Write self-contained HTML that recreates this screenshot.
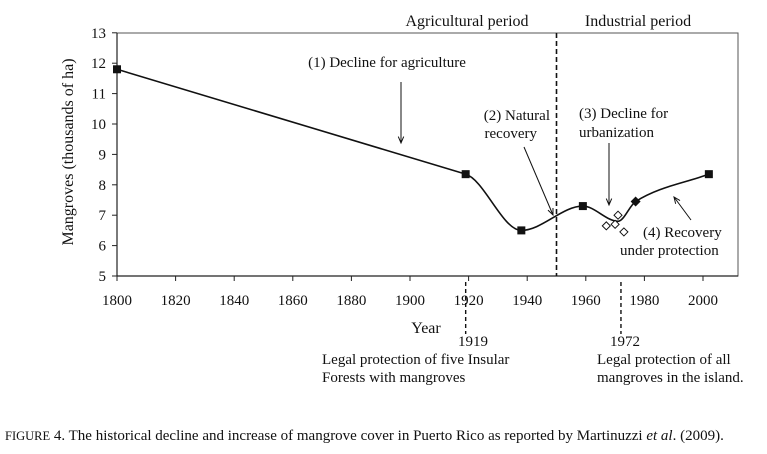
<!DOCTYPE html>
<html><head><meta charset="utf-8"><style>
body{margin:0;background:#fff}
svg text{font-family:"Liberation Serif",serif;fill:#111}
</style></head><body>
<svg width="767" height="449" xmlns="http://www.w3.org/2000/svg">
<g id="plot"></g>
</svg>
<script>
const years=[1800,1919,1938,1959,1977,2002];
const cover=[11.8,8.35,6.5,7.3,7.45,8.35];
const curveYears=[1800,1919,1938,1959,1971,1977,2002];
const curveVals=[11.8,8.35,6.5,7.3,6.8,7.45,8.35];
const openYears=[1967,1970,1971,1973];
const openVals=[6.65,6.7,7.0,6.45];
const filledDiamondIdx=4;
const xTicks=[1800,1820,1840,1860,1880,1900,1920,1940,1960,1980,2000];
const yTicks=[5,6,7,8,9,10,11,12,13];
const NS="http://www.w3.org/2000/svg";
const g=document.getElementById('plot');
const X=v=>117+(v-1800)*2.93;
const Y=v=>276-(v-5)*30.4;
function mk(t,a,p){const e=document.createElementNS(NS,t);for(const k in a)e.setAttribute(k,a[k]);(p||g).appendChild(e);return e;}
function tx(s,x,y,anc,size,name){const e=mk('text',{x:x,y:y,'text-anchor':anc||'start','font-size':size||15});e.textContent=s;return e;}
let a=mk('rect',{x:117,y:33,width:621,height:243,fill:'none',stroke:'#555','stroke-width':1});

a=mk('line',{x1:117,y1:33,x2:117,y2:276,stroke:'#222','stroke-width':1.2});

a=mk('line',{x1:117,y1:276,x2:738,y2:276,stroke:'#222','stroke-width':1.2});

yTicks.forEach(v=>{let l=mk('line',{x1:112,y1:Y(v),x2:117,y2:Y(v),stroke:'#222'});tx(String(v),106,Y(v)+5,'end',15,'y-tick-label');});
xTicks.forEach(v=>{let l=mk('line',{x1:X(v),y1:276,x2:X(v),y2:281,stroke:'#222'});tx(String(v),X(v),305,'middle',15,'x-tick-label');});
a=mk('line',{x1:X(1950),y1:33,x2:X(1950),y2:276,stroke:'#111','stroke-width':1.6,'stroke-dasharray':'5,3'});

[1919,1972].forEach(v=>{let l=mk('line',{x1:X(v),y1:282,x2:X(v),y2:334,stroke:'#111','stroke-width':1.4,'stroke-dasharray':'4,3'});});
const n=curveYears.length, xs=curveYears.map(X), ys=curveVals.map(Y);
const dl=[],m=[];
for(let i=0;i<n-1;i++)dl.push((ys[i+1]-ys[i])/(xs[i+1]-xs[i]));
m[0]=dl[0];m[n-1]=dl[n-2];
for(let i=1;i<n-1;i++){ if(dl[i-1]*dl[i]<=0)m[i]=0; else { const w1=2*(xs[i+1]-xs[i])+(xs[i]-xs[i-1]),w2=(xs[i+1]-xs[i])+2*(xs[i]-xs[i-1]); m[i]=(w1+w2)/(w1/dl[i-1]+w2/dl[i]); } }
m[1]=dl[0];
let d='M'+xs[0]+','+ys[0]+' L'+xs[1]+','+ys[1];
for(let i=1;i<n-1;i++){const h=(xs[i+1]-xs[i])/3;d+=` C${xs[i]+h},${ys[i]+m[i]*h} ${xs[i+1]-h},${ys[i+1]-m[i+1]*h} ${xs[i+1]},${ys[i+1]}`;}
a=mk('path',{d:d,fill:'none',stroke:'#111','stroke-width':1.6});

years.forEach((y,i)=>{const cx=X(y),cy=Y(cover[i]);let e;
if(i===filledDiamondIdx){e=mk('polygon',{points:`${cx},${cy-5} ${cx+5},${cy} ${cx},${cy+5} ${cx-5},${cy}`,fill:'#111'});}
else e=mk('rect',{x:cx-4,y:cy-4,width:8,height:8,fill:'#111'});
});
openYears.forEach((y,i)=>{const cx=X(y),cy=Y(openVals[i]);const e=mk('polygon',{points:`${cx},${cy-4} ${cx+4},${cy} ${cx},${cy+4} ${cx-4},${cy}`,fill:'#fff',stroke:'#111','stroke-width':1});
});
function arrow(x1,y1,x2,y2,name){const l=mk('line',{x1:x1,y1:y1,x2:x2,y2:y2,stroke:'#111','stroke-width':1});
const ang=Math.atan2(y2-y1,x2-x1),s=7;const h=mk('polyline',{points:`${x2-s*Math.cos(ang-0.4)},${y2-s*Math.sin(ang-0.4)} ${x2},${y2} ${x2-s*Math.cos(ang+0.4)},${y2-s*Math.sin(ang+0.4)}`,fill:'none',stroke:'#111','stroke-width':1});}
arrow(401,82,401,143,'arrow-agriculture');
arrow(524,147,553,215,'arrow-natural');
arrow(609,143,609,205,'arrow-urbanization');
arrow(691,220,674,197,'arrow-recovery');
tx('Agricultural period',467,26,'middle',16,'agricultural-period-label');
tx('Industrial period',638,26,'middle',16,'industrial-period-label');
tx('(1) Decline for agriculture',387,67,'middle',15,'annotation-agriculture');
tx('(2) Natural',550,120,'end',15,'annotation-natural-1');
tx('recovery',537,138,'end',15,'annotation-natural-2');
tx('(3) Decline for',579,118,'start',15,'annotation-urbanization-1');
tx('urbanization',579,137,'start',15,'annotation-urbanization-2');
tx('(4) Recovery',643,237,'start',15,'annotation-recovery-1');
tx('under protection',620,255,'start',15,'annotation-recovery-2');
tx('Year',426,333,'middle',16,'x-axis-title');
const yl=tx('Mangroves (thousands of ha)',0,0,'middle',16,'y-axis-title');yl.setAttribute('transform','translate(73,152) rotate(-90)');
tx('1919',458,346,'start',15,'label-1919');
tx('Legal protection of five Insular',322,364,'start',15,'note-1919-1');
tx('Forests with mangroves',322,382,'start',15,'note-1919-2');
tx('1972',610,346,'start',15,'label-1972');
tx('Legal protection of all',597,364,'start',15,'note-1972-1');
tx('mangroves in the island.',597,382,'start',15,'note-1972-2');
const c=tx('',5,440,'start',15,'figure-caption');
c.innerHTML='<tspan font-size="12.5">FIGURE</tspan> 4.  The historical decline and increase of mangrove cover in Puerto Rico as reported by Martinuzzi <tspan font-style="italic">et al</tspan>. (2009).';
</script>
</body></html>
